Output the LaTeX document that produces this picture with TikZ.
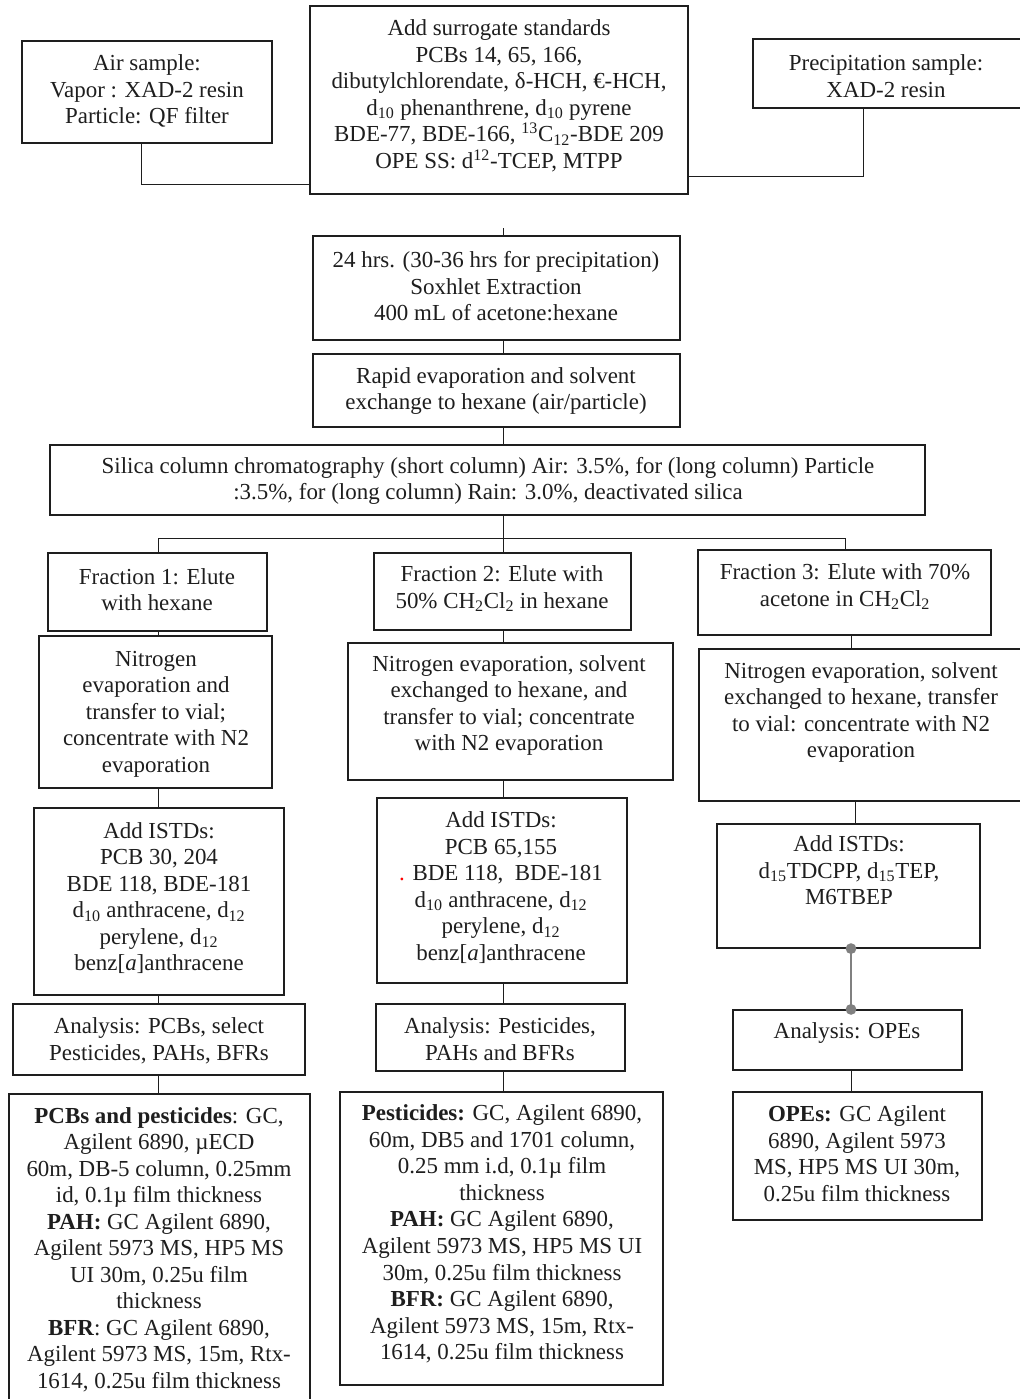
\documentclass[tikz,border=0pt]{standalone}
\usepackage{fontspec}
\setmainfont{Liberation Serif}
\usetikzlibrary{fit,calc,arrows.meta}
\definecolor{ink}{HTML}{1E1E1E}
\definecolor{dotgray}{HTML}{808080}
\begin{document}
\begin{tikzpicture}[x=0.75pt,y=-0.75pt,
  box/.style={draw=ink,line width=0.9pt,inner sep=0pt,fill=none},
  txt/.style={align=center,inner sep=0pt,text=ink,font=\fontsize{17.2}{19.9}\selectfont},
  conn/.style={draw=ink,line width=0.7pt}]
\useasboundingbox (0,0) rectangle (1020,1399);
\fill[white] (0,0) rectangle (1020,1399);

% column coordinates
\coordinate (c1) at (158,0);
\coordinate (c2) at (503,0);
\coordinate (c3) at (845,0);
\coordinate (c3b) at (851,0);
\coordinate (c3c) at (855,0);

% top row
\node[box,fit={(22,41)(272,143)}] (air) {};
\node[txt] (airt) at (147,91) {Air sample:\\Vapor : XAD-2 resin\\Particle: QF filter};
\node[box,fit={(310,6)(688,194)}] (sur) {};
\node[txt] (surt) at (499,96) {Add surrogate standards\\PCBs 14, 65, 166,\\dibutylchlorendate, δ-HCH, €-HCH,\\d\textsubscript{10} phenanthrene, d\textsubscript{10} pyrene\\BDE-77, BDE-166, \textsuperscript{13}C\textsubscript{12}-BDE 209\\OPE SS: d\textsuperscript{12}-TCEP, MTPP};
\node[box,fit={(753,39)(1040,108)}] (pre) {};
\node[txt] (pret) at (886,76) {Precipitation sample:\\XAD-2 resin};

% extraction chain
\node[box,fit={(313,236)(680,340)}] (sox) {};
\node[txt] (soxt) at (496,286.5) {24 hrs. (30-36 hrs for precipitation)\\Soxhlet Extraction\\400 mL of acetone:hexane};
\node[box,fit={(313,354)(680,427)}] (rap) {};
\node[txt] (rapt) at (496,391) {Rapid evaporation and solvent\\exchange to hexane (air/particle)};
\node[box,fit={(50,445)(925,515)}] (sil) {};
\node[txt] (silt) at (488,481) {Silica column chromatography (short column) Air: 3.5\%, for (long column) Particle\\:3.5\%, for (long column) Rain: 3.0\%, deactivated silica};

% fractions
\node[box,fit={(48,553)(267,631)}] (f1) {};
\node[txt] (f1t) at (157,589.5) {Fraction 1: Elute\\with hexane};
\node[box,fit={(374,553)(631,630)}] (f2) {};
\node[txt] (f2t) at (502,588.5) {Fraction 2: Elute with\\50\% CH\textsubscript{2}Cl\textsubscript{2} in hexane};
\node[box,fit={(698,550)(991,635)}] (f3) {};
\node[txt] (f3t) at (845,587) {Fraction 3: Elute with 70\%\\acetone in CH\textsubscript{2}Cl\textsubscript{2}};

% nitrogen evaporation
\node[box,fit={(39,636)(272,788)}] (n1) {};
\node[txt] (n1t) at (156,714) {Nitrogen\\evaporation and\\transfer to vial;\\concentrate with N2\\evaporation};
\node[box,fit={(348,643)(673,780)}] (n2) {};
\node[txt] (n2t) at (509,705.5) {Nitrogen evaporation, solvent\\exchanged to hexane, and\\transfer to vial; concentrate\\with N2 evaporation};
\node[box,fit={(699,649)(1040,801)}] (n3) {};
\node[txt] (n3t) at (861,712.5) {Nitrogen evaporation, solvent\\exchanged to hexane, transfer\\to vial: concentrate with N2\\evaporation};

% internal standards
\node[box,fit={(34,808)(284,995)}] (i1) {};
\node[txt] (i1t) at (159,898) {Add ISTDs:\\PCB 30, 204\\BDE 118, BDE-181\\d\textsubscript{10} anthracene, d\textsubscript{12}\\perylene, d\textsubscript{12}\\benz[\textit{a}]anthracene};
\node[box,fit={(377,798)(627,983)}] (i2) {};
\node[txt] (i2t) at (501,887.5) {Add ISTDs:\\PCB 65,155\\{\color{red}.} BDE 118,\ \ BDE-181\\d\textsubscript{10} anthracene, d\textsubscript{12}\\perylene, d\textsubscript{12}\\benz[\textit{a}]anthracene};
\node[box,fit={(717,824)(980,948)}] (i3) {};
\node[txt] (i3t) at (849,870.5) {Add ISTDs:\\d\textsubscript{15}TDCPP, d\textsubscript{15}TEP,\\M6TBEP};

% analysis
\node[box,fit={(13,1004)(305,1075)}] (a1) {};
\node[txt] (a1t) at (159,1041) {Analysis: PCBs, select\\Pesticides, PAHs, BFRs};
\node[box,fit={(376,1004)(625,1071)}] (a2) {};
\node[txt] (a2t) at (500,1039) {Analysis: Pesticides,\\PAHs and BFRs};
\node[box,fit={(733,1010)(962,1070)}] (a3) {};
\node[txt] (a3t) at (847,1033) {Analysis: OPEs};

% instruments
\node[box,fit={(9,1094)(310,1420)}] (g1) {};
\node[txt] (g1t) at (159,1249.5) {\textbf{PCBs and pesticides}: GC,\\Agilent 6890, µECD\\60m, DB-5 column, 0.25mm\\id, 0.1µ film thickness\\\textbf{PAH:} GC Agilent 6890,\\Agilent 5973 MS, HP5 MS\\UI 30m, 0.25u film\\thickness\\\textbf{BFR}: GC Agilent 6890,\\Agilent 5973 MS, 15m, Rtx-\\1614, 0.25u film thickness};
\node[box,fit={(340,1092)(663,1385)}] (g2) {};
\node[txt] (g2t) at (502,1234) {\textbf{Pesticides:} GC, Agilent 6890,\\60m, DB5 and 1701 column,\\0.25 mm i.d, 0.1µ film\\thickness\\\textbf{PAH:} GC Agilent 6890,\\Agilent 5973 MS, HP5 MS UI\\30m, 0.25u film thickness\\\textbf{BFR:} GC Agilent 6890,\\Agilent 5973 MS, 15m, Rtx-\\1614, 0.25u film thickness};
\node[box,fit={(733,1092)(982,1220)}] (g3) {};
\node[txt] (g3t) at (857,1153.5) {\textbf{OPEs:} GC Agilent\\6890, Agilent 5973\\MS, HP5 MS UI 30m,\\0.25u film thickness};

% connectors
\draw[conn] ($(air.south)+(-6,0)$) |- ($(sur.south west)+(0,-10)$);
\draw[conn] ($(pre.south west)+(111,0)$) |- ($(sur.south east)+(0,-18)$);
\coordinate (stub) at (503,228);
\draw[conn] (stub) -- (sox.north -| stub);
\draw[conn] (sox.south -| c2) -- (rap.north -| c2);
\draw[conn] (rap.south -| c2) -- (sil.north -| c2);
\coordinate (bus) at (503,538);
\draw[conn] (sil.south -| c2) -- (bus);
\draw[conn] (bus -| c1) -- (bus -| c3);
\draw[conn] (bus -| c1) -- (f1.north -| c1);
\draw[conn] (bus -| c2) -- (f2.north -| c2);
\draw[conn] (bus -| c3) -- (f3.north -| c3);
\draw[conn] (f1.south -| c1) -- (n1.north -| c1);
\draw[conn] (f2.south -| c2) -- (n2.north -| c2);
\draw[conn] (f3.south -| c3b) -- (n3.north -| c3b);
\draw[conn] (n1.south -| c1) -- (i1.north -| c1);
\draw[conn] (n2.south -| c2) -- (i2.north -| c2);
\draw[conn] (n3.south -| c3c) -- (i3.north -| c3c);
\draw[conn] (i1.south -| c1) -- (a1.north -| c1);
\draw[conn] (i2.south -| c2) -- (a2.north -| c2);
\draw[draw=dotgray,line width=1.1pt,{Circle[length=8pt]}-{Circle[length=8pt]},shorten <=-4pt,shorten >=-4pt] (i3.south -| c3b) -- (a3.north -| c3b);
\draw[conn] (a1.south -| c1) -- (g1.north -| c1);
\draw[conn] (a2.south -| c2) -- (g2.north -| c2);
\draw[conn] (a3.south -| c3b) -- (g3.north -| c3b);
\end{tikzpicture}
\end{document}
